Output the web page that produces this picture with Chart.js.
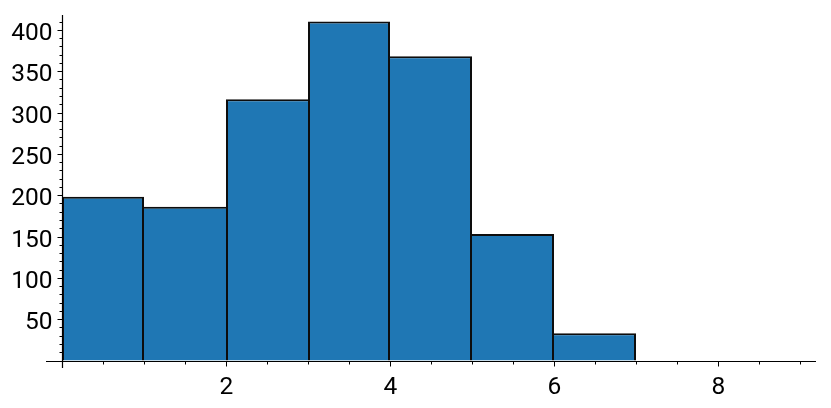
<!DOCTYPE html>
<html><head><meta charset="utf-8">
<script src="https://cdn.jsdelivr.net/npm/chart.js@4/dist/chart.umd.min.js"></script>
<style>html,body{margin:0;padding:0;background:#fff}canvas{display:block}</style>
</head><body>
<canvas id="c" width="831" height="408"></canvas>
<script>
// Histogram data
const binStarts = [0, 1, 2, 3, 4, 5, 6, 7, 8];
const binWidth = 1;
const counts = [198, 186, 316, 410, 368, 153, 33, 0, 0];
const xTickLabels = [2, 4, 6, 8];
const yTickLabels = [50, 100, 150, 200, 250, 300, 350, 400];
const xMinorTicks = [0.5, 1, 1.5, 2.5, 3, 3.5, 4.5, 5, 5.5, 6.5, 7, 7.5, 8.5, 9];
const yMinorTicks = [10, 20, 30, 40, 60, 70, 80, 90, 110, 120, 130, 140, 160, 170, 180, 190,
  210, 220, 230, 240, 260, 270, 280, 290, 310, 320, 330, 340, 360, 370, 380, 390, 410];

const FONT = '400 24.5px Roboto, "DejaVu Sans", sans-serif';
const EDGE = 2;

const axesPlugin = {
  id: 'sageAxes',
  afterDatasetsDraw(chart) {
    const ctx = chart.ctx;
    const xs = chart.scales.x, ys = chart.scales.y;
    const area = chart.chartArea;
    const x0 = Math.round(xs.getPixelForValue(0)) + 0.5;
    const y0 = Math.round(ys.getPixelForValue(0)) + 0.5;
    ctx.save();
    ctx.strokeStyle = '#000';
    ctx.fillStyle = '#000';
    ctx.lineWidth = 1.2;
    ctx.beginPath();
    ctx.moveTo(area.left, y0); ctx.lineTo(area.right, y0);
    ctx.moveTo(x0, area.top); ctx.lineTo(x0, area.bottom);
    ctx.stroke();
    ctx.lineWidth = 1;
    ctx.beginPath();
    xTickLabels.forEach(v => { const p = Math.round(xs.getPixelForValue(v)) + 0.5; ctx.moveTo(p, y0); ctx.lineTo(p, y0 + 5); });
    xMinorTicks.forEach(v => { const p = Math.round(xs.getPixelForValue(v)) + 0.5; ctx.moveTo(p, y0); ctx.lineTo(p, y0 + 3); });
    yTickLabels.forEach(v => { const p = Math.round(ys.getPixelForValue(v)) + 0.5; ctx.moveTo(x0, p); ctx.lineTo(x0 - 5, p); });
    yMinorTicks.forEach(v => { const p = Math.round(ys.getPixelForValue(v)) + 0.5; ctx.moveTo(x0, p); ctx.lineTo(x0 - 3, p); });
    ctx.stroke();
    ctx.font = FONT;
    ctx.textAlign = 'center';
    ctx.textBaseline = 'alphabetic';
    xTickLabels.forEach(v => ctx.fillText(String(v), xs.getPixelForValue(v) + 0.5, y0 + 32));
    ctx.textAlign = 'right';
    yTickLabels.forEach(v => ctx.fillText(String(v), x0 - 10, ys.getPixelForValue(v) + 10));
    ctx.restore();
  }
};

new Chart(document.getElementById('c'), {
  type: 'bar',
  data: {
    datasets: [{
      data: binStarts.map((s, i) => ({ x: s + binWidth / 2, y: counts[i] })),
      backgroundColor: '#1f77b4',
      borderColor: '#0d0d0d',
      borderSkipped: false,
      inflateAmount: 0,
      borderWidth: (c) => {
        const i = c.dataIndex;
        const v = counts[i];
        const prev = i > 0 ? counts[i - 1] : 0;
        const next = i < counts.length - 1 ? counts[i + 1] : 0;
        return { top: EDGE, bottom: 0, left: (v > 0 && v >= prev) ? EDGE : 0, right: v > next ? EDGE : 0 };
      },
      barPercentage: 1,
      categoryPercentage: 1
    }]
  },
  options: {
    responsive: false,
    devicePixelRatio: 1,
    animation: false,
    layout: { padding: { left: 46, right: 15, top: 15, bottom: 40 } },
    plugins: { legend: { display: false }, tooltip: { enabled: false } },
    scales: {
      x: { type: 'linear', display: false, offset: false, min: -16 / 82, max: 754 / 82 },
      y: { type: 'linear', display: false, min: -9, max: 418 }
    }
  },
  plugins: [axesPlugin]
});
</script>
</body></html>
